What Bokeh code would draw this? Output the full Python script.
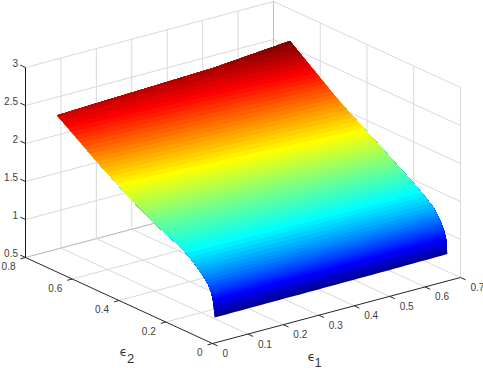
import numpy as np
from bokeh.plotting import figure
from bokeh.models import Range1d, ColumnDataSource
from bokeh.core.properties import value
from bokeh.embed import file_html
from bokeh.resources import INLINE

# --- data ---
x_ticks = [0, 0.1, 0.2, 0.3, 0.4, 0.5, 0.6, 0.7]
x_tick_labels = ["0", "0.1", "0.2", "0.3", "0.4", "0.5", "0.6", "0.7"]
y_ticks = [0, 0.2, 0.4, 0.6, 0.8]
y_tick_labels = ["0", "0.2", "0.4", "0.6", "0.8"]
z_ticks = [0.5, 1, 1.5, 2, 2.5, 3]
z_tick_labels = ["0.5", "1", "1.5", "2", "2.5", "3"]

eps1_columns = [0.01, 0.45, 0.667]
eps2_rows = [0.0065, 0.011, 0.02, 0.035, 0.065, 0.11, 0.15, 0.267, 0.387, 0.46, 0.503, 0.68]
z_at_eps1_low = [0.82, 1.00, 1.12, 1.22, 1.33, 1.455, 1.535, 1.703, 1.914, 2.06, 2.146, 2.53]
z_at_eps1_mid = [0.83, 1.02, 1.13, 1.23, 1.36, 1.47, 1.56, 1.768, 1.996, 2.14, 2.234, 2.605]
z_at_eps1_high = [0.84, 1.03, 1.13, 1.23, 1.37, 1.48, 1.57, 1.80, 2.037, 2.18, 2.278, 2.69]

# --- view: orthographic projection of the 3-D box on the page ---
X_MAX, Y_MAX, Z_MIN, Z_MAX = 0.7, 0.8, 0.5, 3.0
ORIGIN = (212.0, 343.0)
X_VEC = (248.0, -66.0)
Y_VEC = (-187.0, -86.0)
Z_VEC = (0.0, -190.0)


def proj(x, y, z):
    x, y, z = np.asarray(x, float), np.asarray(y, float), np.asarray(z, float)
    a, b, c = x / X_MAX, y / Y_MAX, (z - Z_MIN) / (Z_MAX - Z_MIN)
    return (ORIGIN[0] + a * X_VEC[0] + b * Y_VEC[0] + c * Z_VEC[0],
            ORIGIN[1] + a * X_VEC[1] + b * Y_VEC[1] + c * Z_VEC[1])


p = figure(width=483, height=368, output_backend="svg", toolbar_location=None,
           x_range=Range1d(0, 483), y_range=Range1d(368, 0),
           x_axis_type=None, y_axis_type=None, min_border=0)
p.outline_line_color = None
p.grid.visible = False
p.background_fill_color = "white"


def seg(a, b, color, width=1.0):
    xs, ys = proj([a[0], b[0]], [a[1], b[1]], [a[2], b[2]])
    p.line(xs, ys, line_color=color, line_width=width)


GRID = "#d9d9d9"
DARK = "#c0c0c0"
AXIS = "#262626"

# grid: floor
for x in x_ticks[1:]:
    seg((x, 0, Z_MIN), (x, Y_MAX, Z_MIN), GRID)
for y in y_ticks[1:]:
    seg((0, y, Z_MIN), (X_MAX, y, Z_MIN), GRID)
# grid: back wall (eps2 = max)
for x in x_ticks[1:]:
    seg((x, Y_MAX, Z_MIN), (x, Y_MAX, Z_MAX), GRID)
for z in z_ticks[1:]:
    seg((0, Y_MAX, z), (X_MAX, Y_MAX, z), GRID)
# grid: back wall (eps1 = max)
for y in y_ticks:
    seg((X_MAX, y, Z_MIN), (X_MAX, y, Z_MAX), GRID)
for z in z_ticks[1:]:
    seg((X_MAX, 0, z), (X_MAX, Y_MAX, z), GRID)
# doubled lines at the box's rear edges
seg((0, Y_MAX, Z_MIN), (X_MAX, Y_MAX, Z_MIN), DARK)
seg((X_MAX, Y_MAX, Z_MIN), (X_MAX, Y_MAX, Z_MAX), DARK)


# --- surface: 64 jet bands, painted from the lowest up ---
def jet(k, n=64):
    t = (k + 1) / n
    r = np.clip(min(4 * t - 1.5, -4 * t + 4.5), 0, 1)
    g = np.clip(min(4 * t - 0.5, -4 * t + 3.5), 0, 1)
    b = np.clip(min(4 * t + 0.5, -4 * t + 2.5), 0, 1)
    return "#%02x%02x%02x" % (int(r * 255), int(g * 255), int(b * 255))


rows = np.array(eps2_rows)
table = np.array([z_at_eps1_low, z_at_eps1_mid, z_at_eps1_high])
columns = np.array(eps1_columns)
zl, zh = table[0], table[-1]
xl, xh = columns[0], columns[-1]
zbot, ztop = table.min(), table.max()
sweep = np.linspace(xl, xh, 41)
xs_all, ys_all, colors = [], [], []
for k in range(64):
    level = zbot + k * (ztop - zbot) / 64
    ix, iy, iz = [], [], []
    for x in sweep:
        col = np.array([np.interp(x, columns, table[:, r]) for r in range(len(rows))])
        y_iso = np.interp(level, col, rows)
        ix.append(x)
        iy.append(y_iso)
        iz.append(np.interp(y_iso, rows, col))
    rm = rows > iy[-1]
    lm = rows > iy[0]
    # the far edge of the surface, followed back through the middle column
    far_x = columns[::-1][1:-1]
    far_y = np.full(len(far_x), rows[-1])
    far_z = np.array([np.interp(x, columns, table[:, -1]) for x in far_x])
    px = np.concatenate([ix, np.full(rm.sum(), xh), far_x, np.full(lm.sum(), xl)[::-1]])
    py = np.concatenate([iy, rows[rm], far_y, rows[lm][::-1]])
    pz = np.concatenate([iz, zh[rm], far_z, zl[lm][::-1]])
    sx, sy = proj(px, py, pz)
    xs_all.append(sx.tolist())
    ys_all.append(sy.tolist())
    colors.append(jet(k))
p.patches("xs", "ys", fill_color="c", line_color=None,
          source=ColumnDataSource(dict(xs=xs_all, ys=ys_all, c=colors)))

# --- axes ---
seg((0, 0, Z_MIN), (X_MAX, 0, Z_MIN), AXIS)
seg((0, 0, Z_MIN), (0, Y_MAX, Z_MIN), AXIS)
seg((0, Y_MAX, Z_MIN), (0, Y_MAX, Z_MAX), "#1a1a1a")

TICK_X = 0.014   # eps1 units
TICK_Y = 0.022   # eps2 units
TICK_Z = 0.022
for x in x_ticks:
    seg((x, 0, Z_MIN), (x, -TICK_Y, Z_MIN), AXIS)
for y in y_ticks:
    seg((0, y, Z_MIN), (-TICK_X, y, Z_MIN), AXIS)
for z in z_ticks:
    seg((0, Y_MAX, z), (0, Y_MAX + TICK_Z, z), AXIS)

FONT = value("Liberation Sans")
TXT = "#404040"


def labels(xs, ys, txt, dx, dy, align):
    p.text(np.asarray(xs) + dx, np.asarray(ys) + dy, text=txt, text_font=FONT,
           text_font_size=value("10px"), text_color=TXT, text_align=align,
           text_baseline="middle")


xa, ya = proj(x_ticks, np.zeros(len(x_ticks)), np.full(len(x_ticks), Z_MIN))
labels(xa, ya, x_tick_labels, 10, 9.5, "left")
xa, ya = proj(np.zeros(len(y_ticks)), y_ticks, np.full(len(y_ticks), Z_MIN))
labels(xa, ya, y_tick_labels, -10, 8.5, "right")
xa, ya = proj(np.zeros(len(z_ticks)), np.full(len(z_ticks), Y_MAX), z_ticks)
labels(xa, ya, z_tick_labels, -7.5, -5, "right")


def label(x, y, txt, size, font):
    p.text([x], [y], text=[txt], text_font=value(font), text_font_size=value(size),
           text_color="#303030", text_align="center", text_baseline="middle")


label(311, 356, "\u03f5", "12px", "DejaVu Sans")
label(317.5, 361.5, "1", "12px", "Liberation Sans")
label(123, 351, "\u03f5", "12px", "DejaVu Sans")
label(130, 358, "2", "13px", "Liberation Sans")

open("out.html", "w").write(file_html(p, INLINE))
